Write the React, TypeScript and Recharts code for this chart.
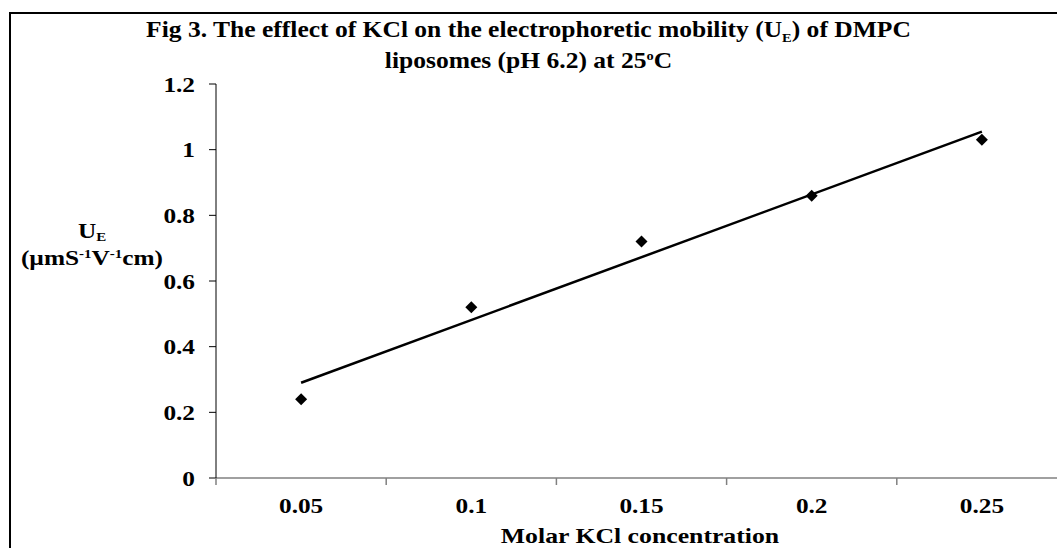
import { ComposedChart, Line, Scatter, XAxis, YAxis } from "recharts";

const concentrations = ["0.05", "0.1", "0.15", "0.2", "0.25"];
const mobility = [0.24, 0.52, 0.72, 0.86, 1.03];
// linear trendline, read at first and last category
const trendPos = [1, 5];
const trendValues = [0.29, 1.055];
const yTicks = [0, 0.2, 0.4, 0.6, 0.8, 1, 1.2];

const points = concentrations.map((c, i) => ({ pos: i + 1, label: c, mobility: mobility[i] }));
const trend = trendPos.map((p, i) => ({ pos: p, trend: trendValues[i] }));
const xTicks = [0.5, 1, 1.5, 2, 2.5, 3, 3.5, 4, 4.5, 5, 5.5];

const serif = "'Liberation Serif', 'Times New Roman', serif";
const stretch = 1.15;

function XTick(props: any) {
  const { x, y, payload } = props;
  const v = payload.value;
  if (Number.isInteger(v)) {
    return (
      <text
        transform={`translate(${x},${y + 35}) scale(${stretch},1)`}
        textAnchor="middle"
        fontFamily={serif}
        fontWeight="bold"
        fontSize={22}
        fill="#000"
      >
        {concentrations[v - 1]}
      </text>
    );
  }
  return <line x1={x} y1={y} x2={x} y2={y + 7} stroke="#808080" strokeWidth={1.5} />;
}

function YTick(props: any) {
  const { x, y, payload } = props;
  return (
    <text
      transform={`translate(${x},${y}) scale(${stretch},1)`}
      textAnchor="end"
      dy="0.35em"
      fontFamily={serif}
      fontWeight="bold"
      fontSize={22}
      fill="#000"
    >
      {String(payload.value)}
    </text>
  );
}

function Diamond(props: any) {
  const { cx, cy } = props;
  const r = 6;
  return <polygon points={`${cx},${cy - r} ${cx + r},${cy} ${cx},${cy + r} ${cx - r},${cy}`} fill="#000" />;
}

const small = { fontSize: 13, position: "relative" as const, lineHeight: 0 };

export default function App() {
  return (
    <div
      style={{
        position: "absolute",
        left: 0,
        top: 0,
        width: 1057,
        height: 548,
        overflow: "hidden",
        background: "#fff",
        fontFamily: serif,
        color: "#000",
      }}
    >
      <div
        style={{
          position: "absolute",
          left: 9,
          top: 12,
          width: 1200,
          height: 700,
          border: "2px solid #000",
        }}
      />
      <div
        style={{
          position: "absolute",
          left: 32,
          width: 1000,
          top: 14,
          textAlign: "center",
          fontWeight: "bold",
          fontSize: 23,
          lineHeight: "31px",
          whiteSpace: "nowrap",
          transform: "scaleX(1.11)",
          transformOrigin: "532px 0",
        }}
      >
        Fig 3. The efflect of KCl on the electrophoretic mobility (U<span style={{ ...small, top: 5 }}>E</span>) of DMPC
        <br />
        liposomes (pH 6.2) at 25<span style={{ ...small, top: -8 }}>o</span>C
      </div>
      <div
        style={{
          position: "absolute",
          left: 0,
          width: 184,
          top: 217,
          textAlign: "center",
          fontWeight: "bold",
          fontSize: 22,
          lineHeight: "27px",
          whiteSpace: "nowrap",
          transform: "scaleX(1.15)",
          transformOrigin: "92px 0",
        }}
      >
        U<span style={{ ...small, top: 3 }}>E</span>
        <br />
        (µmS<span style={{ ...small, top: -7 }}>-1</span>V<span style={{ ...small, top: -7 }}>-1</span>cm)
      </div>
      <div
        style={{
          position: "absolute",
          left: 440,
          width: 400,
          top: 524,
          textAlign: "center",
          fontWeight: "bold",
          fontSize: 22,
          lineHeight: "24px",
          whiteSpace: "nowrap",
          transform: "scaleX(1.17)",
          transformOrigin: "200px 0",
        }}
      >
        Molar KCl concentration
      </div>
      <div style={{ position: "absolute", left: 0, top: 0 }}>
        <ComposedChart
          width={1100}
          height={548}
          data={points}
          margin={{ top: 84, right: 33, left: 156, bottom: 10 }}
        >
          <XAxis
            type="number"
            dataKey="pos"
            domain={[0.5, 5.5]}
            ticks={xTicks}
            interval={0}
            tickSize={0}
            tickMargin={0}
            tickLine={false}
            tick={<XTick />}
            height={60}
            axisLine={{ stroke: "#808080", strokeWidth: 1.5 }}
          />
          <YAxis
            type="number"
            domain={[0, 1.2]}
            ticks={yTicks}
            interval={0}
            width={60}
            tickSize={7}
            tickMargin={14}
            axisLine={{ stroke: "#000", strokeWidth: 1 }}
            tickLine={{ stroke: "#000", strokeWidth: 1 }}
            tick={<YTick />}
          />
          <Line
            data={trend}
            dataKey="trend"
            type="linear"
            stroke="#000"
            strokeWidth={2.5}
            dot={false}
            activeDot={false}
            isAnimationActive={false}
          />
          <Scatter dataKey="mobility" shape={<Diamond />} isAnimationActive={false} />
        </ComposedChart>
      </div>
    </div>
  );
}
